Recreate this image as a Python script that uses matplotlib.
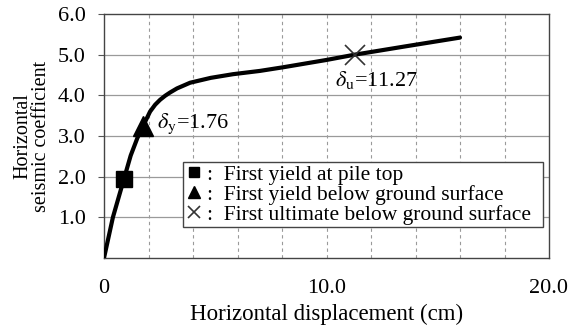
import matplotlib
matplotlib.use("Agg")
import matplotlib.pyplot as plt
import numpy as np

plt.rcParams['font.family'] = ['Liberation Serif', 'DejaVu Serif']
plt.rcParams['mathtext.fontset'] = 'stix'

# Pushover curve: horizontal displacement (cm) vs horizontal seismic coefficient
disp = [0.0, 0.40, 0.90, 1.20, 1.50, 1.76, 2.07, 2.30, 2.52, 2.75, 2.97, 3.28,
        3.87, 4.8, 5.8, 7.0, 8.05, 10.0, 11.27, 13.5, 16.0]
coef = [0.0, 1.00, 1.95, 2.52, 2.95, 3.25, 3.60, 3.77, 3.89, 3.99, 4.07, 4.17,
        4.31, 4.43, 4.52, 4.60, 4.69, 4.87, 5.00, 5.20, 5.42]

# Damage events
yield_top = (0.90, 1.95)
yield_below = (1.76, 3.25)
ultimate_below = (11.27, 5.00)

x_ticks = [0, 10, 20]
x_tick_labels = ["0", "10.0", "20.0"]
y_ticks = [1, 2, 3, 4, 5, 6]
y_tick_labels = ["1.0", "2.0", "3.0", "4.0", "5.0", "6.0"]

fig = plt.figure(figsize=(5.76, 3.26), dpi=100)
ax = fig.add_axes([104/576, 1 - 258/326, 445/576, 244/326])

# grid
for yv in y_ticks[:-1]:
    ax.axhline(yv, color="#9a9a9a", lw=0.9, zorder=0)
for xv in np.arange(2, 20, 2):
    ax.axvline(xv, color="#9a9a9a", lw=0.8, ls=(0, (3, 3)), zorder=0)

ax.plot(disp, coef, color="black", lw=3.0, solid_capstyle="round",
        solid_joinstyle="round", zorder=3)

ax.plot(*yield_top, marker="s", color="black", ms=12, ls="none", zorder=4,
        label=":  First yield at pile top")
ax.plot(*yield_below, marker="^", color="black", ms=14, ls="none", zorder=4,
        label=":  First yield below ground surface")
ax.plot(*ultimate_below, marker="x", color="#333333", ms=15, mew=1.2, ls="none", zorder=4,
        label=":  First ultimate below ground surface")

ax.text(2.4, 3.30, r"$\delta_{\rm y}$=1.76", fontsize=16, va="center", ha="left")
ax.text(10.38, 4.38, r"$\delta_{\rm u}$=11.27", fontsize=16, va="center", ha="left")

ax.set_xlim(0, 20)
ax.set_ylim(0, 6)
ax.set_xticks(x_ticks)
ax.set_xticklabels(x_tick_labels)
ax.set_yticks(y_ticks)
ax.set_yticklabels(y_tick_labels)
ax.tick_params(axis="both", labelsize=16, direction="out", length=4, color="#555555")
ax.tick_params(axis="y", pad=9)
ax.tick_params(axis="x", pad=15, length=0)
for s in ax.spines.values():
    s.set_color("#444444")
    s.set_linewidth(1.0)

ax.set_xlabel("Horizontal displacement (cm)", fontsize=16.5, labelpad=4)
ax.set_ylabel("Horizontal\nseismic coefficient", fontsize=14.5, labelpad=5, linespacing=1.0)

leg = ax.legend(loc="lower left", bbox_to_anchor=(0.178, 0.127, 0.809, 0.283),
                mode="expand", fontsize=15.5, frameon=True, fancybox=False,
                framealpha=1, edgecolor="#444444", handlelength=0.8,
                handletextpad=0.2, borderpad=0.1, labelspacing=0.0,
                borderaxespad=0, markerscale=0.6)
leg.get_frame().set_linewidth(1.0)

fig.savefig("out.png", dpi=100)
